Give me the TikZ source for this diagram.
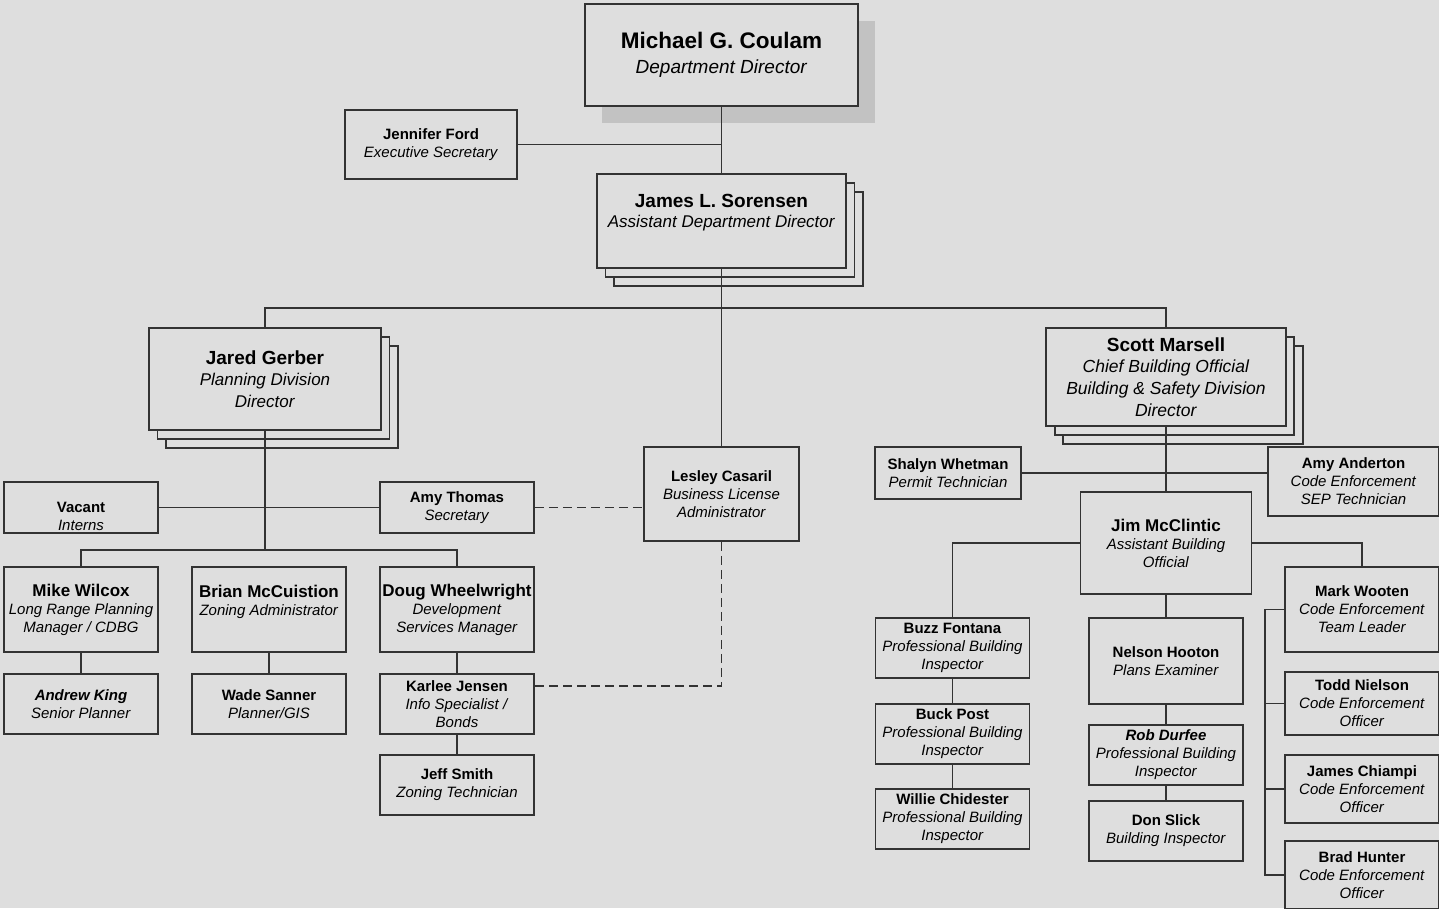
\documentclass[tikz,border=0pt]{standalone}
\usepackage{fontspec}
\setmainfont{Liberation Sans}
\usetikzlibrary{shadows,calc}
\definecolor{bgcol}{RGB}{222,222,222}
\definecolor{linecol}{RGB}{51,51,51}
\definecolor{shadowcol}{RGB}{194,194,194}
\begin{document}
\begin{tikzpicture}[x=1pt,y=-1pt,every node/.style={draw=linecol, fill=bgcol, line width=1.6pt, align=center, inner sep=0pt, text=black, font=\fontsize{15}{18}\selectfont},box/.style 2 args={minimum width=#1pt, minimum height=#2pt},stack/.style={general shadow={shadow xshift=17pt, shadow yshift=-18pt, fill=bgcol, draw=linecol}, general shadow={shadow xshift=8.5pt, shadow yshift=-9pt, fill=bgcol, draw=linecol}},dropshadow/.style={general shadow={shadow xshift=17pt, shadow yshift=-17pt, fill=shadowcol, draw=none}},link/.style={draw=linecol, line width=1.5pt},dashlink/.style={link, dash pattern=on 9pt off 5pt}]

	\useasboundingbox (0,0) rectangle (1439,908);
	\fill[bgcol] (0,0) rectangle (1439,908);

	\node[box={273}{102}, dropshadow, font=\fontsize{19}{25}\selectfont] (coulam) at (721.5,55) {{\fontsize{22.5}{25}\selectfont\textbf{Michael G. Coulam}}\\\textit{Department Director}};
	\node[box={172}{69}] (ford) at (431,144.5) {\textbf{Jennifer Ford}\\\textit{Executive Secretary}};
	\node[box={249}{94}, stack, font=\fontsize{17}{20}\selectfont] (sorensen) at (721.5,221) {{\fontsize{19}{20}\selectfont\textbf{James L. Sorensen}}\\\textit{Assistant Department Director}\\\mbox{}};

	\node[box={232}{102}, stack, font=\fontsize{17}{21.5}\selectfont] (gerber) at (265,379) {{\fontsize{19}{21.5}\selectfont\textbf{Jared Gerber}}\\\textit{Planning Division}\\\textit{Director}};
	\node[box={155}{94}] (casaril) at (721.5,494) {\textbf{Lesley Casaril}\\\textit{Business License}\\\textit{Administrator}};
	\node[box={239.5}{98}, stack, font=\fontsize{17.5}{21.7}\selectfont] (marsell) at (1166,377) {{\fontsize{19}{21.7}\selectfont\textbf{Scott Marsell}}\\\textit{Chief Building Official}\\\textit{Building \& Safety Division}\\\textit{Director}};

	\node[box={154}{51}] (vacant) at (81,507.5) {\mbox{}\\[10pt]\textbf{Vacant}\\\textit{Interns}};
	\node[box={154}{51}] (thomas) at (457,507.5) {\textbf{Amy Thomas}\\\textit{Secretary}};
	\node[box={154}{85}] (wilcox) at (81,609.5) {{\fontsize{17}{18}\selectfont\textbf{Mike Wilcox}}\\\textit{Long Range Planning}\\\textit{Manager / CDBG}};
	\node[box={154}{85}] (mccuistion) at (269,609.5) {{\fontsize{17}{18}\selectfont\textbf{Brian McCuistion}}\\\textit{Zoning Administrator}\\\mbox{}};
	\node[box={154}{85}] (wheelwright) at (457,609.5) {{\fontsize{17}{18}\selectfont\textbf{Doug Wheelwright}}\\\textit{Development}\\\textit{Services Manager}};
	\node[box={154}{60}] (king) at (81,704) {\textbf{\textit{Andrew King}}\\\textit{Senior Planner}};
	\node[box={154}{60}] (sanner) at (269,704) {\textbf{Wade Sanner}\\\textit{Planner/GIS}};
	\node[box={154}{60}] (jensen) at (457,704) {\textbf{Karlee Jensen}\\\textit{Info Specialist /}\\\textit{Bonds}};
	\node[box={154}{60}] (smith) at (457,785) {\textbf{Jeff Smith}\\\textit{Zoning Technician}};

	\node[box={145.5}{52}] (whetman) at (948,473) {\textbf{Shalyn Whetman}\\\textit{Permit Technician}};
	\node[box={171}{69}] (anderton) at (1353.5,481.5) {\textbf{Amy Anderton}\\\textit{Code Enforcement}\\\textit{SEP Technician}};
	\node[box={171}{102}] (mcclintic) at (1166,543) {{\fontsize{17}{19}\selectfont\textbf{Jim McClintic}}\\\textit{Assistant Building}\\\textit{Official}};
	\node[box={154}{60}] (fontana) at (952.5,648) {\textbf{Buzz Fontana}\\\textit{Professional Building}\\\textit{Inspector}};
	\node[box={154}{60}] (post) at (952.5,734) {\textbf{Buck Post}\\\textit{Professional Building}\\\textit{Inspector}};
	\node[box={154}{60}] (chidester) at (952.5,819) {\textbf{Willie Chidester}\\\textit{Professional Building}\\\textit{Inspector}};
	\node[box={154}{86}] (hooton) at (1166,661) {\textbf{Nelson Hooton}\\\textit{Plans Examiner}};
	\node[box={154}{60}] (durfee) at (1166,755) {\textbf{\textit{Rob Durfee}}\\\textit{Professional Building}\\\textit{Inspector}};
	\node[box={154}{60}] (slick) at (1166,831) {\textbf{Don Slick}\\\textit{Building Inspector}};
	\node[box={154}{85}] (wooten) at (1362,609.5) {\textbf{Mark Wooten}\\\textit{Code Enforcement}\\\textit{Team Leader}};
	\node[box={154}{63}] (nielson) at (1362,703.5) {\textbf{Todd Nielson}\\\textit{Code Enforcement}\\\textit{Officer}};
	\node[box={154}{68}] (chiampi) at (1362,789) {\textbf{James Chiampi}\\\textit{Code Enforcement}\\\textit{Officer}};
	\node[box={154}{68}] (hunter) at (1362,875) {\textbf{Brad Hunter}\\\textit{Code Enforcement}\\\textit{Officer}};

	\coordinate (topbus) at (721.5,308);
	\coordinate (planbus) at (265,550);

	\draw[link] (coulam) -- (sorensen);
	\draw[link] (ford) -- (ford -| coulam);
	\draw[link] (sorensen) -- (casaril);
	\draw[link] (gerber) |- (topbus) -| (marsell);

	\draw[link] (gerber) -- (planbus);
	\draw[link] (vacant) -- (thomas);
	\draw[link] (wilcox) |- (planbus) -| (wheelwright);
	\draw[link] (wilcox) -- (king);
	\draw[link] (mccuistion) -- (sanner);
	\draw[link] (wheelwright) -- (jensen) -- (smith);
	\draw[dashlink] (thomas) -- (thomas -| casaril.west);
	\draw[dashlink] (casaril) |- ($(jensen.north east)+(0,13)$);

	\draw[link] (marsell) -- (mcclintic);
	\draw[link] (whetman) -- (whetman -| anderton.west);
	\draw[link] (mcclintic) -| (fontana);
	\draw[link] (mcclintic) -| (wooten);
	\draw[link] (fontana) -- (post) -- (chidester);
	\draw[link] (mcclintic) -- (hooton) -- (durfee) -- (slick);
	\draw[link] (wooten.west) -- ++(-19,0) coordinate (cebus) |- (hunter);
	\draw[link] (nielson) -- (nielson -| cebus);
	\draw[link] (chiampi) -- (chiampi -| cebus);
\end{tikzpicture}
\end{document}
